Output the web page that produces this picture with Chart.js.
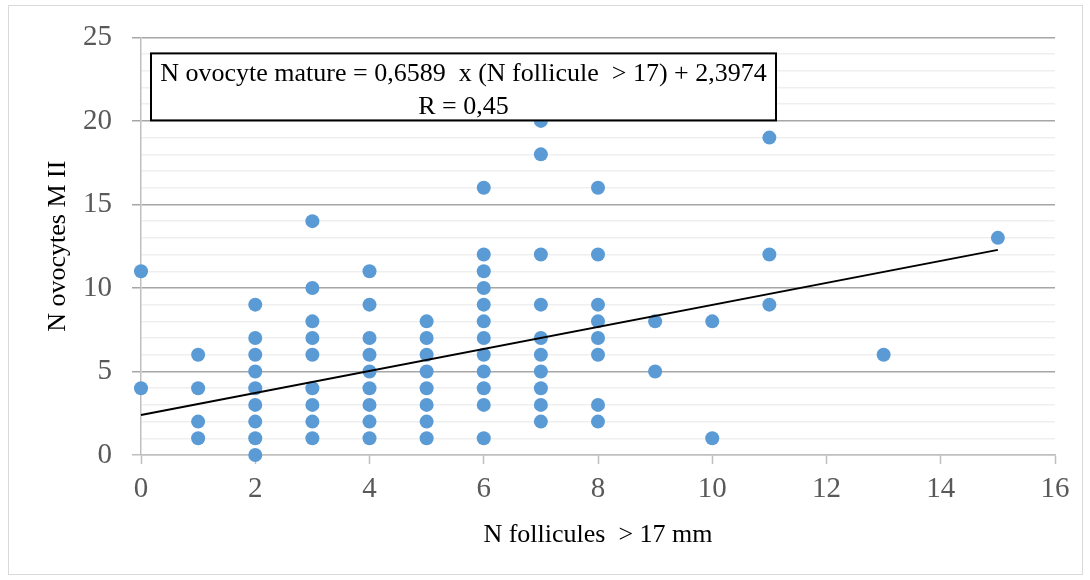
<!DOCTYPE html>
<html lang="fr">
<head>
  <meta charset="utf-8">
  <title>N ovocytes M II / N follicules &gt; 17 mm</title>
  <style>
    html, body { margin: 0; padding: 0; background: #fff; }
    .wrap { position: relative; width: 1090px; height: 580px; }
    .frame { position: absolute; left: 8px; top: 5px; width: 1073px; height: 568px;
             border: 1.5px solid #d9d9d9; pointer-events: none; }
  </style>
</head>
<body>
  <div class="wrap">
    <canvas id="chart" width="1090" height="580"></canvas>
    <div class="frame"></div>
  </div>

  <script src="https://cdn.jsdelivr.net/npm/chart.js"></script>
  <script>
    // one entry per patient: follicles > 17 mm (x) and mature oocytes M II (y)
    const follicles = [
      0, 0,
      1, 1, 1, 1,
      2, 2, 2, 2, 2, 2, 2, 2, 2,
      3, 3, 3, 3, 3, 3, 3, 3, 3,
      4, 4, 4, 4, 4, 4, 4, 4, 4,
      5, 5, 5, 5, 5, 5, 5, 5,
      6, 6, 6, 6, 6, 6, 6, 6, 6, 6, 6, 6,
      7, 7, 7, 7, 7, 7, 7, 7, 7, 7,
      8, 8, 8, 8, 8, 8, 8, 8,
      9, 9,
      10, 10,
      11, 11, 11,
      13,
      15
    ];
    const ovocytes = [
      11, 4,
      6, 4, 2, 1,
      9, 7, 6, 5, 4, 3, 2, 1, 0,
      14, 10, 8, 7, 6, 4, 3, 2, 1,
      11, 9, 7, 6, 5, 4, 3, 2, 1,
      8, 7, 6, 5, 4, 3, 2, 1,
      16, 12, 11, 10, 9, 8, 7, 6, 5, 4, 3, 1,
      20, 18, 12, 9, 7, 6, 5, 4, 3, 2,
      16, 12, 9, 8, 7, 6, 3, 2,
      8, 5,
      8, 1,
      19, 12, 9,
      6,
      13
    ];

    // linear trend: y = 0,6589 x + 2,3974, drawn from x = 0 to x = 15
    const trendX = [0, 15];
    const trendY = [2.3974, 12.2809];

    const equationLines = [
      'N ovocyte mature = 0,6589  x (N follicule  > 17) + 2,3974',
      'R = 0,45'
    ];

    const serif = "'Liberation Serif', 'Times New Roman', serif";

    const equationBox = {
      id: 'equationBox',
      afterDatasetsDraw(chart) {
        const { ctx, chartArea } = chart;
        const x = chartArea.left + 10, y = chartArea.top + 16;
        const w = 625, h = 67;
        ctx.save();
        ctx.fillStyle = '#fff';
        ctx.fillRect(x, y, w, h);
        ctx.lineWidth = 2;
        ctx.strokeStyle = '#000';
        ctx.strokeRect(x, y, w, h);
        ctx.fillStyle = '#000';
        ctx.font = '26px ' + serif;
        ctx.textAlign = 'center';
        ctx.textBaseline = 'alphabetic';
        ctx.fillText(equationLines[0], x + w / 2, y + 28);
        ctx.fillText(equationLines[1], x + w / 2, y + 61);
        ctx.restore();
      }
    };

    const isMajor = ctx => ctx.tick && ctx.tick.value % 5 === 0;

    new Chart(document.getElementById('chart'), {
      type: 'scatter',
      data: {
        datasets: [{
          type: 'line',
          label: 'Tendance',
          data: trendX.map((x, i) => ({ x, y: trendY[i] })),
          borderColor: '#000',
          borderWidth: 2,
          pointRadius: 0,
          clip: false,
          order: 0
        }, {
          label: 'N ovocytes M II',
          data: follicles.map((x, i) => ({ x, y: ovocytes[i] })),
          backgroundColor: '#5b9bd5',
          borderWidth: 0,
          pointRadius: 7,
          clip: false,
          order: 1
        }]
      },
      options: {
        responsive: false,
        animation: false,
        layout: { padding: { left: 43, top: 35, right: 35, bottom: 29 } },
        plugins: { legend: { display: false }, tooltip: { enabled: false } },
        scales: {
          x: {
            type: 'linear',
            min: 0, max: 16,
            ticks: { stepSize: 2, color: '#595959', font: { family: serif, size: 29 }, padding: 8 },
            grid: { drawOnChartArea: false, drawTicks: true, tickLength: 9, tickColor: '#bfbfbf', tickWidth: 1.5 },
            border: { color: '#bfbfbf', width: 1.5 },
            title: { display: true, text: 'N follicules  > 17 mm', color: '#000',
                     font: { family: serif, size: 26 }, padding: 0 },
            afterFit(scale) { scale.height = 96; }
          },
          y: {
            min: 0, max: 25,
            ticks: {
              stepSize: 1, autoSkip: false, color: '#595959',
              font: { family: serif, size: 29 }, padding: 20,
              callback: v => v % 5 === 0 ? v : ''
            },
            grid: {
              color: c => c.tick && c.tick.value === 0 ? '#bfbfbf' : (isMajor(c) ? '#a6a6a6' : '#efefef'),
              lineWidth: 1.5,
              tickLength: 9,
              tickColor: c => isMajor(c) ? (c.tick.value === 0 ? '#bfbfbf' : '#a6a6a6') : 'rgba(0,0,0,0)'
            },
            border: { color: '#bfbfbf', width: 1.5 },
            title: { display: true, text: 'N ovocytes M II', color: '#000',
                     font: { family: serif, size: 26 }, padding: 0 },
            afterFit(scale) { scale.width = 98; }
          }
        }
      },
      plugins: [equationBox]
    });
  </script>
</body>
</html>
